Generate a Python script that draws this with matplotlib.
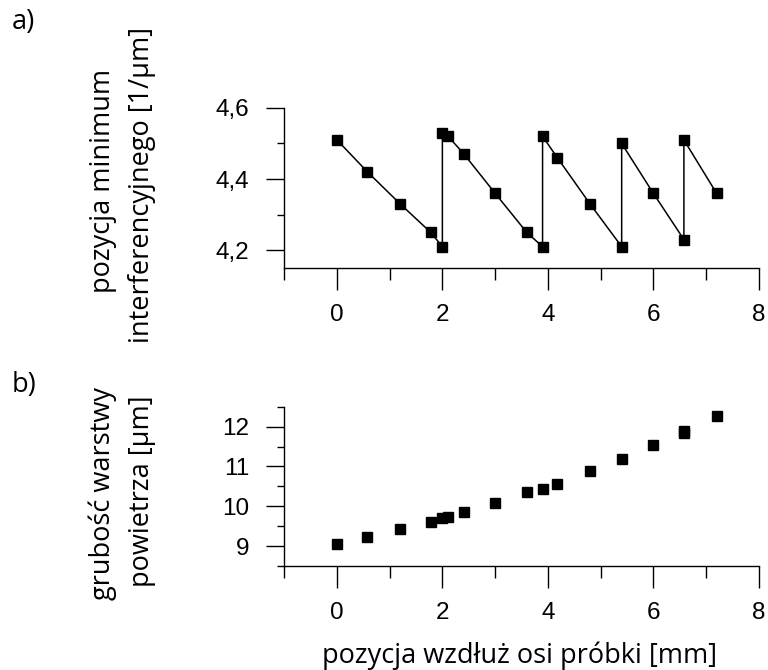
"""
Two-panel figure: interference-minimum position (a) and air-gap thickness (b)
versus position along the sample axis.
"""

import matplotlib
matplotlib.use('Agg')
import matplotlib.pyplot as plt
from matplotlib.ticker import MultipleLocator, FuncFormatter

plt.rcParams.update({
    'font.family': ['Liberation Sans', 'DejaVu Sans'],
    'font.size': 17.5,
    'axes.linewidth': 1.0,
})

LABEL_FONT = ['Open Sans', 'DejaVu Sans']
LABEL_SIZE = 19.5

# panel a: position of interference minimum, sawtooth (line through points in order)
pos_a = [0.0, 0.58, 1.2, 1.78, 2.0, 2.0, 2.11, 2.41, 3.0, 3.6,
         3.9, 3.9, 4.18, 4.8, 5.4, 5.4, 6.0, 6.58, 6.58, 7.2]
minimum_a = [4.51, 4.42, 4.33, 4.25, 4.21, 4.53, 4.52, 4.47, 4.36, 4.25,
             4.21, 4.52, 4.46, 4.33, 4.21, 4.50, 4.36, 4.23, 4.51, 4.36]

# panel b: air layer thickness
pos_b = [0.0, 0.58, 1.2, 1.78, 2.0, 2.11, 2.41, 3.0, 3.6, 3.9,
         4.18, 4.8, 5.4, 6.0, 6.58, 6.58, 7.2]
thickness_b = [9.06, 9.24, 9.43, 9.60, 9.70, 9.74, 9.85, 10.09, 10.36, 10.44,
               10.57, 10.89, 11.18, 11.53, 11.84, 11.90, 12.27]


def comma_fmt(v, _pos):
    return f'{v:.1f}'.replace('.', ',')


def style_axes(ax):
    for s in ('top', 'right'):
        ax.spines[s].set_visible(False)
    ax.set_xlim(-1, 8)
    ax.xaxis.set_major_locator(MultipleLocator(2))
    ax.xaxis.set_minor_locator(MultipleLocator(1))
    ax.tick_params(axis='x', which='major', direction='out', length=16, width=1.0, pad=10)
    ax.tick_params(axis='x', which='minor', direction='out', length=8.5, width=1.0)
    ax.tick_params(axis='y', which='major', direction='out', length=13, width=1.0, pad=12)
    ax.tick_params(axis='y', which='minor', direction='out', length=5, width=1.0)


fig = plt.figure(figsize=(7.68, 6.70), dpi=100)

# ===== Panel a =====
ax1 = fig.add_axes([0.370, 0.600, 0.618, 0.239])
ax1.plot(pos_a, minimum_a, '-', color='black', linewidth=1.1,
         marker='s', markersize=6.5, markerfacecolor='black', markeredgecolor='black')
style_axes(ax1)
ax1.set_ylim(4.15, 4.6)
ax1.yaxis.set_major_formatter(FuncFormatter(comma_fmt))
ax1.set_yticks([4.2, 4.4, 4.6])
ax1.set_yticks([4.3, 4.5], minor=True)

fig.text(0.134, 0.730, 'pozycja minimum', rotation=90, ha='center', va='center',
         fontsize=LABEL_SIZE, family=LABEL_FONT)
fig.text(0.185, 0.724, 'interferencyjnego [1/\u03bcm]', rotation=90, ha='center',
         va='center', fontsize=LABEL_SIZE, family=LABEL_FONT)

# ===== Panel b =====
ax2 = fig.add_axes([0.370, 0.155, 0.618, 0.238])
ax2.plot(pos_b, thickness_b, 's', color='black', markersize=6.5)
style_axes(ax2)
ax2.set_ylim(8.5, 12.5)
ax2.yaxis.set_major_locator(MultipleLocator(1))
ax2.yaxis.set_minor_locator(MultipleLocator(0.5))

fig.text(0.134, 0.264, 'grubość warstwy', rotation=90, ha='center', va='center',
         fontsize=LABEL_SIZE, family=LABEL_FONT)
fig.text(0.185, 0.267, 'powietrza [\u03bcm]', rotation=90, ha='center', va='center',
         fontsize=LABEL_SIZE, family=LABEL_FONT)

fig.text(0.677, 0.022, 'pozycja wzdłuż osi próbki [mm]', ha='center', va='center',
         fontsize=LABEL_SIZE, family=LABEL_FONT)

fig.text(0.015, 0.967, 'a)', ha='left', va='center', fontsize=LABEL_SIZE, family=LABEL_FONT)
fig.text(0.015, 0.425, 'b)', ha='left', va='center', fontsize=LABEL_SIZE, family=LABEL_FONT)

fig.savefig('out.png', dpi=100)
